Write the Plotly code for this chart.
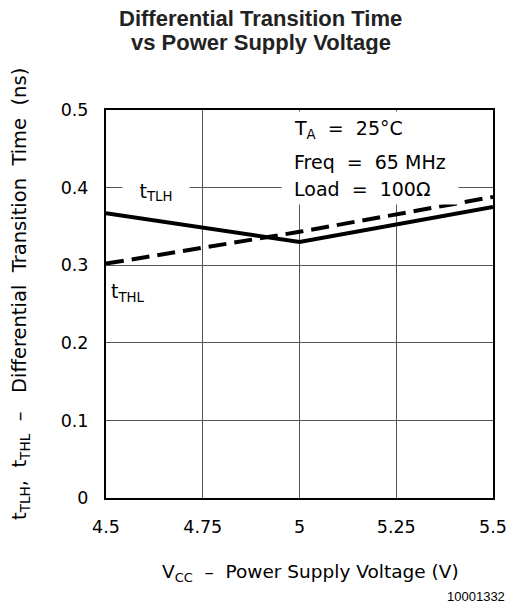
import plotly.graph_objects as go

vcc = [4.5, 5.0, 5.5]
t_tlh = [0.367, 0.330, 0.375]
t_thl = [0.302, 0.343, 0.388]
x_ticks = [4.5, 4.75, 5.0, 5.25, 5.5]
x_tick_labels = ["4.5", "4.75", "5", "5.25", "5.5"]
y_ticks = [0, 0.1, 0.2, 0.3, 0.4, 0.5]
y_tick_labels = ["0", "0.1", "0.2", "0.3", "0.4", "0.5"]

FONT = "DejaVu Sans"
# page offset (body margin) and plot box in window pixels
OFF = 8
PL, PR, PT, PB = 106, 493, 110, 498
W, H = 522 - OFF, 613 - OFF


def px(sx):
    return (sx - PL) / (PR - PL)


def py(sy):
    return (PB - sy) / (PB - PT)


fig = go.Figure()
fig.add_trace(go.Scatter(x=vcc, y=t_tlh, mode="lines",
                         line=dict(color="black", width=4), showlegend=False))
fig.add_trace(go.Scatter(x=vcc, y=t_thl, mode="lines",
                         line=dict(color="black", width=4, dash="18px,8px"), showlegend=False))

fig.update_layout(
    width=W, height=H,
    margin=dict(l=PL - OFF, r=W - (PR - OFF), t=PT - OFF, b=H - (PB - OFF)),
    paper_bgcolor="white", plot_bgcolor="white",
    font=dict(family=FONT, color="black", size=17),
    xaxis=dict(range=[4.5, 5.5], tickvals=x_ticks, ticktext=x_tick_labels,
               showgrid=True, gridcolor="#555", gridwidth=1,
               showline=True, linecolor="black", linewidth=2, mirror=True,
               ticks="", zeroline=False, ticklabelstandoff=12,
               tickfont=dict(size=17.5)),
    yaxis=dict(range=[0, 0.5], tickvals=y_ticks, ticktext=y_tick_labels,
               showgrid=True, gridcolor="#555", gridwidth=1,
               showline=True, linecolor="black", linewidth=2, mirror=True,
               ticks="", zeroline=False, ticklabelstandoff=12,
               tickfont=dict(size=17.5)),
)

# title lines
fig.add_annotation(x=px(260), y=py(19), xref="paper", yref="paper",
                   xanchor="center", yanchor="middle", showarrow=False,
                   text="<b>Differential Transition Time</b>", height=21,
                   font=dict(family="Liberation Sans", size=22, color="#222"))
fig.add_annotation(x=px(261), y=py(42), xref="paper", yref="paper",
                   xanchor="center", yanchor="middle", showarrow=False,
                   text="<b>vs Power Supply Voltage</b>", height=24,
                   font=dict(family="Liberation Sans", size=22, color="#222"))

# axis titles
fig.add_annotation(x=px(310), y=py(573), xref="paper", yref="paper",
                   xanchor="center", yanchor="middle", showarrow=False,
                   text="V<sub>CC</sub>  –  Power Supply Voltage (V)",
                   font=dict(size=18.5))
fig.add_annotation(x=px(20), y=py(294), xref="paper", yref="paper",
                   xanchor="center", yanchor="middle", showarrow=False, textangle=-90,
                   text="t<sub>TLH</sub>,  t<sub>THL</sub>  –   Differential  Transition  Time  (ns)",
                   font=dict(size=19.5))

# white box behind the conditions text (breaks the grid lines)
fig.add_annotation(x=px(281), y=py(111), xref="paper", yref="paper",
                   xanchor="left", yanchor="top", showarrow=False,
                   text=" ", width=176, height=92, bgcolor="white", borderpad=0)
cond_lines = ["T<sub>A</sub>  =  25°C", "Freq  =  65 MHz", "Load  =  100Ω"]
cond_y = [129, 162, 189]
for t, sy in zip(cond_lines, cond_y):
    fig.add_annotation(x=px(292), y=py(sy), xref="paper", yref="paper",
                       xanchor="left", yanchor="middle", showarrow=False,
                       text=t, font=dict(size=19))

# curve labels
fig.add_annotation(x=px(156), y=py(192), xref="paper", yref="paper",
                   xanchor="center", yanchor="middle", showarrow=False,
                   text="t<sub>TLH</sub>", width=66, height=24, bgcolor="white",
                   borderpad=0, font=dict(size=19))
fig.add_annotation(x=px(128), y=py(292), xref="paper", yref="paper",
                   xanchor="center", yanchor="middle", showarrow=False,
                   text="t<sub>THL</sub>", font=dict(size=19))

# figure number
fig.add_annotation(x=px(507), y=py(596), xref="paper", yref="paper",
                   xanchor="right", yanchor="middle", showarrow=False,
                   text="10001332", font=dict(family="Liberation Sans", size=13))

fig.write_html("out.html")
